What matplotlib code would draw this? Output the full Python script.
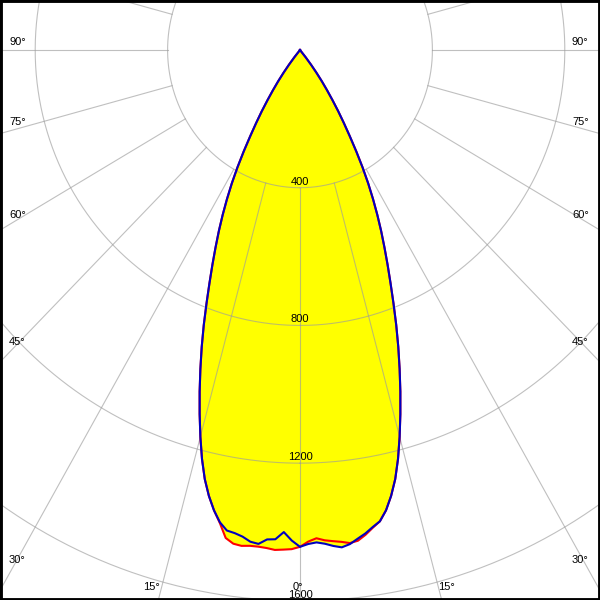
import numpy as np
import matplotlib
matplotlib.use("Agg")
import matplotlib.pyplot as plt
from matplotlib.patches import Rectangle

# ---- data (candela values, gamma in degrees) ----
gamma_low = [0, 1, 2, 3, 4, 5, 6, 7, 8, 9, 10]
c0_low   = [1443, 1428, 1419, 1426, 1430, 1434, 1440, 1436, 1422, 1405, 1390]
c180_low = [1443, 1450, 1452, 1454, 1450, 1448, 1448, 1451, 1448, 1435, 1395]
c90_low  = [1443, 1435, 1431, 1436, 1444, 1450, 1443, 1430, 1418, 1403, 1390]
c270_low = [1443, 1425, 1401, 1423, 1425, 1440, 1436, 1424, 1417, 1413, 1393]

gamma_high = [11, 12, 13, 14, 15, 16, 17, 18, 19, 20, 21, 22, 23, 24, 25, 26, 27,
              28, 29, 30, 31, 32, 33, 34, 35, 36, 37, 38, 39, 40, 90]
i_high = [1362, 1324, 1279, 1224, 1163, 1100, 1037, 974, 912, 850, 788, 730, 677,
          627, 580, 533, 486, 439, 390, 340, 292, 250, 212, 175, 142, 112, 82, 54,
          27, 0, 0]

ring_values = [400, 800, 1200, 1600]
ring_labels = ["400", "800", "1200", "1600"]
spoke_angles = list(range(0, 360, 15))

left_labels = ["90°", "75°", "60°", "45°", "30°"]
right_labels = ["90°", "75°", "60°", "45°", "30°"]
bottom_labels = ["15°", "0°", "15°"]

# ---- figure ----
W = H = 600
fig = plt.figure(figsize=(6, 6), dpi=100)
fig.patch.set_facecolor("white")

rmax = 2000
sx = 0.331    # px per cd horizontally
sy = 0.3443   # px per cd vertically
cx, cy = 300, 550   # centre, pixels from bottom-left
hw, hh = rmax * sx, rmax * sy
ax = fig.add_axes([(cx - hw) / W, (cy - hh) / H, 2 * hw / W, 2 * hh / H],
                  projection="polar")
ax.set_aspect("auto")
ax.set_theta_zero_location("S")
ax.set_ylim(0, rmax)
ax.grid(False)
ax.set_xticks([])
ax.set_yticks([])
ax.spines["polar"].set_visible(False)
ax.patch.set_facecolor("white")

g = np.array(gamma_low + gamma_high, dtype=float)
def side(low):
    return np.array(list(low) + list(i_high), dtype=float)

th = np.deg2rad(np.concatenate([-g[::-1], g]))
red_r = np.concatenate([side(c180_low)[::-1], side(c0_low)])
blue_r = np.concatenate([side(c270_low)[::-1], side(c90_low)])

ax.fill(th, red_r, color="#ffff00", lw=0, zorder=1)
ax.fill(th, blue_r, color="#ffff00", lw=0, zorder=1)

# grid
gcol = (0.61, 0.61, 0.61)
ga = 0.64
circ = np.linspace(0, 2 * np.pi, 1441)
for r in ring_values:
    ax.plot(circ, np.full_like(circ, r), color=gcol, alpha=ga, lw=0.8, zorder=2)
for a in spoke_angles:
    ax.plot([np.deg2rad(a)] * 2, [ring_values[0], rmax], color=gcol, alpha=ga,
            lw=0.8, zorder=2)

# curves
ax.plot(th, red_r, color="#ff0000", lw=1.5, zorder=4, solid_joinstyle="round")
ax.plot(th, blue_r, color="#0000c0", lw=1.5, zorder=5, solid_joinstyle="round")

font = dict(family=["Liberation Sans", "DejaVu Sans"], size=8, color="black")
for r, lab in zip(ring_values, ring_labels):
    ax.annotate(lab, xy=(0, r), xytext=(0, 6), textcoords="offset pixels",
                ha="center", va="center", zorder=3, **font)

left_y = [42, 122, 215, 342, 560]
for lab, y in zip(left_labels, left_y):
    fig.text(9 / W, 1 - y / H, lab, ha="left", va="center", **font)
for lab, y in zip(right_labels, left_y):
    fig.text(572 / W, 1 - y / H, lab, ha="left", va="center", **font)
for lab, x in zip(bottom_labels, [143, 293, 438]):
    fig.text(x / W, 1 - 587 / H, lab, ha="left", va="center", **font)

fig.add_artist(Rectangle((0, 0), 1, 1, transform=fig.transFigure, fill=False,
                         ec="black", lw=3.5, zorder=10))

fig.savefig("out.png", dpi=100)
